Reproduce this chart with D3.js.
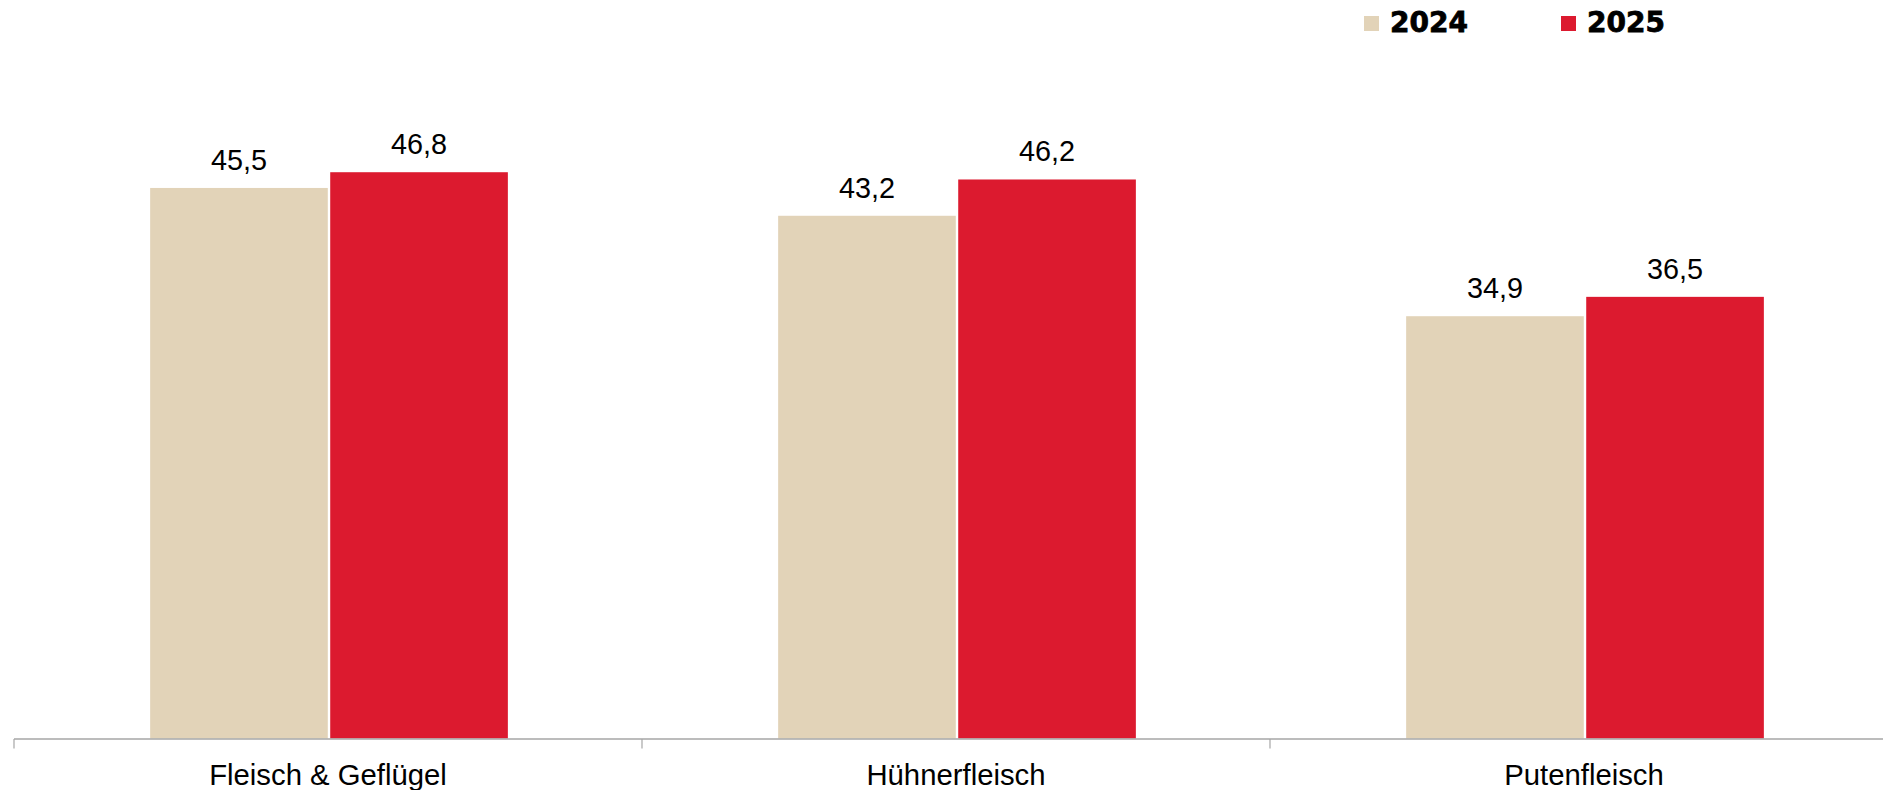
<!DOCTYPE html>
<html><head><meta charset="utf-8">
<script src="https://cdn.jsdelivr.net/npm/d3@7"></script>
<style>html,body{margin:0;padding:0;background:#fff;overflow:hidden}</style>
</head><body>
<svg id="chart" width="1883" height="790"></svg>
<script>
const categories = ["Fleisch & Geflügel", "Hühnerfleisch", "Putenfleisch"];
const seriesNames = ["2024", "2025"];
const values2024 = [45.5, 43.2, 34.9];
const values2025 = [46.8, 46.2, 36.5];
const colors = ["#E2D3B8", "#DC1A2F"];

const series = [values2024, values2025];
const svg = d3.select("#chart");

const x0 = d3.scaleBand().domain(categories).range([14, 1898]).paddingInner(0).paddingOuter(0);
const bw = x0.bandwidth();
const x1 = d3.scaleBand().domain(seriesNames).range([bw * 0.2168, bw * 0.7864]).paddingInner(0.0135);
const y = d3.scaleLinear().domain([0, 60]).range([738.5, 12.5]);

const fmt = v => d3.format(".1f")(v).replace(".", ",");

// bars
categories.forEach((c, i) => {
  seriesNames.forEach((s, j) => {
    const v = series[j][i];
    svg.append("rect")
      .attr("x", x0(c) + x1(s))
      .attr("y", y(v))
      .attr("width", x1.bandwidth())
      .attr("height", y(0) - y(v))
      .attr("fill", colors[j]);
    svg.append("text")
      .attr("x", x0(c) + x1(s) + x1.bandwidth() / 2)
      .attr("y", y(v) - 18)
      .attr("text-anchor", "middle")
      .attr("font-family", "Liberation Sans, Arial, sans-serif")
      .attr("font-size", 28.8)
      .attr("fill", "#000")
      .text(fmt(v));
  });
});

// axis
const gx = svg.append("g").attr("transform", `translate(0,${y(0)})`);
gx.append("line").attr("x1", 14).attr("x2", 1883).attr("y1", 0.5).attr("y2", 0.5)
  .attr("stroke", "#A6A6A6").attr("stroke-width", 1.5);
const bounds = categories.map(c => x0(c)).concat([x0.range()[1]]);
gx.selectAll("line.tick").data(bounds).enter().append("line")
  .attr("class", "tick")
  .attr("x1", d => d).attr("x2", d => d).attr("y1", 0.5).attr("y2", 10)
  .attr("stroke", "#A6A6A6").attr("stroke-width", 1.2);
gx.selectAll("text.cat").data(categories).enter().append("text")
  .attr("class", "cat")
  .attr("x", d => x0(d) + bw / 2)
  .attr("y", 46)
  .attr("text-anchor", "middle")
  .attr("font-family", "Liberation Sans, Arial, sans-serif")
  .attr("font-size", 29.3)
  .attr("fill", "#000")
  .text(d => d);

// legend
const legX = [1364, 1561];
seriesNames.forEach((s, j) => {
  const g = svg.append("g").attr("transform", `translate(${legX[j]},0)`);
  g.append("rect").attr("x", 0).attr("y", 16).attr("width", 15).attr("height", 15).attr("fill", colors[j]);
  g.append("text").attr("x", 26).attr("y", 32)
    .attr("font-family", "DejaVu Sans, sans-serif")
    .attr("font-weight", "bold")
    .attr("font-size", 28)
    .attr("fill", "#000")
    .attr("stroke", "#000").attr("stroke-width", 0.8)
    .text(s);
});
</script>
</body></html>
